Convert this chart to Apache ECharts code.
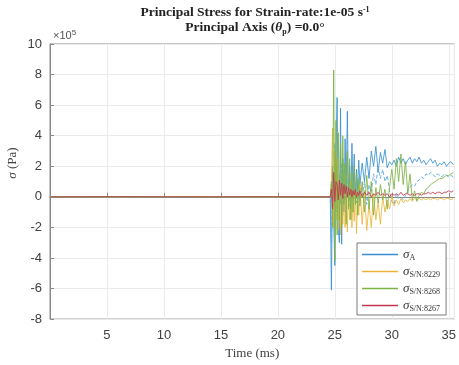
<!DOCTYPE html>
<html>
<head>
<meta charset="utf-8">
<script src="https://cdn.jsdelivr.net/npm/echarts@6/dist/echarts.min.js"></script>
<style>
html, body { margin: 0; padding: 0; background: #fff; }
#main { width: 459px; height: 365px; }
</style>
</head>
<body>
<div id="main"></div>
<script>
// time axis (ms)
var timeMs = [0.1, 6, 12, 18, 24.6,
    24.7, 24.8, 24.9, 25.0, 25.1, 25.2, 25.3, 25.4, 25.5, 25.6,
    25.7, 25.8, 25.9, 26.0, 26.1, 26.2, 26.3, 26.4, 26.5, 26.6,
    26.7, 26.8, 26.9, 27.0, 27.1, 27.2,
    27.4, 27.6, 27.8, 28.0, 28.2, 28.4, 28.6, 28.8, 29.0, 29.2,
    29.4, 29.6, 29.8, 30.0, 30.2, 30.4, 30.6, 30.8, 31.0, 31.2,
    31.4, 31.6, 31.8, 32.0, 32.2, 32.4, 32.6, 32.8, 33.0, 33.2,
    33.4, 33.6, 33.8, 34.0, 34.2, 34.4, 34.6, 34.8, 35.0, 35.2, 35.4];

// stress values, x10^5 Pa
var sigmaA = [0, 0.02, -0.02, 0.01, 0,
    -6.1, 2.0, -1.5, -4.5, 3.0, 6.5, -2.0, -3.0, 5.8, -3.1,
    2.5, -1.0, 3.8, 0.5, 5.6, -0.5, 2.0, -0.8, 3.5, 0.2,
    2.8, -0.3, 1.8, 0.5, 2.4, 0.8,
    2.2, 1.0, 2.6, 1.2, 3.0, 2.0, 3.3, 1.6, 2.9, 2.2,
    3.1, 1.9, 2.3, 2.1, 2.4, 2.0, 2.6, 2.2, 2.5, 2.1,
    2.4, 2.6, 2.2, 2.5, 2.3, 2.6, 2.2, 2.4, 2.1, 2.3,
    2.5, 2.2, 2.4, 2.0, 2.2, 2.1, 2.3, 2.0, 2.2, 2.3, 2.1];
// second blue trace (dashed, not in legend)
var sigmaA2 = [0, 0, 0, 0, 0,
    -3.0, 1.0, -2.0, 3.5, -1.0, 2.0, -2.5, 1.5, -0.5, 2.2,
    -1.2, 1.0, -0.2, 1.8, 0.0, 1.2, -0.6, 0.8, -0.3, 1.0,
    0.2, 0.9, -0.4, 0.6, -0.2, 0.8,
    0.1, 1.0, -0.5, 0.8, 0.3, 1.5, 0.8, 2.0, 1.2, 1.8,
    1.0, 1.4, 0.4, -0.3, -0.5, 0.2, -0.1, 0.0, -0.2, 0.1,
    0.4, 0.6, 0.8, 0.7, 1.0, 1.1, 1.3, 1.2, 1.5, 1.4,
    1.6, 1.5, 1.3, 1.5, 1.4, 1.3, 1.5, 1.4, 1.3, 1.4, 1.3];
var sn8229 = [0, 0, 0.01, 0, 0,
    1.0, 4.5, -2.0, 3.0, -1.5, 2.5, -2.2, 1.2, -2.5, 0.8,
    -1.8, 1.5, -2.0, 0.5, -2.3, 0.6, -1.5, 1.0, -2.0, 0.3,
    -1.6, 0.5, -2.4, 0.2, -1.2, 0.8,
    -1.8, 0.4, -2.2, -0.5, -2.0, 0.2, -1.5, -0.3, -1.8, 0.0,
    -1.0, -0.2, -0.8, 0.1, -0.6, -0.2, -0.5, -0.1, -0.4, -0.2,
    -0.3, -0.1, -0.3, -0.1, -0.2, -0.1, -0.2, -0.1, -0.2, -0.1,
    -0.2, -0.1, -0.1, -0.2, -0.1, -0.1, -0.2, -0.1, -0.1, -0.2, -0.1];
var sn8268 = [0, 0.01, 0, -0.01, 0,
    1.0, -2.0, 8.3, -4.2, 5.0, -2.5, 4.2, -1.5, 3.5, -2.0,
    4.0, -0.5, 2.2, -1.8, 3.0, -0.8, 2.5, -1.5, 1.6, -1.0,
    2.0, -0.5, 1.5, -1.2, 1.2, -0.6,
    1.0, -1.0, 1.4, -0.8, 1.0, -1.2, 0.6, -0.4, 0.8, -0.2,
    0.5, -0.8, 0.6, 1.8, 0.5, 2.5, 1.0, 2.8, 0.8, 2.3,
    0.2, 1.5, -0.2, 0.4, -0.3, 0.1, 0.3, 0.2, 0.5, 0.6,
    0.8, 0.9, 1.0, 1.1, 1.2, 1.2, 1.3, 1.4, 1.4, 1.5, 1.6];
var sn8267 = [0, 0.01, 0, 0.01, 0,
    0.5, -0.8, 1.6, -0.3, 1.0, 0.8, -0.2, 1.1, 0.1, 0.9,
    -0.1, 0.8, 0.2, 0.7, 0.0, 0.6, 0.1, 0.5, 0.0, 0.4,
    0.1, 0.5, 0.0, 0.3, 0.1, 0.4,
    0.0, 0.3, 0.1, 0.3, 0.0, 0.2, 0.1, 0.3, 0.1, 0.2,
    0.1, 0.2, 0.0, 0.2, 0.1, 0.2, 0.1, 0.3, 0.1, 0.2,
    0.2, 0.1, 0.2, 0.1, 0.2, 0.2, 0.1, 0.2, 0.2, 0.3,
    0.2, 0.3, 0.2, 0.3, 0.3, 0.2, 0.3, 0.3, 0.4, 0.3, 0.4];

var legendNames = ['σ_A', 'σ_S/N:8229', 'σ_S/N:8268', 'σ_S/N:8267'];
var lineColors = ['#3a8fd0', '#ebb53a', '#7db343', '#c23550'];

function pairs(ys) {
    return timeMs.map(function (t, i) { return [t, ys[i]]; });
}

function lineSeries(name, ys, color, dashed) {
    return {
        name: name,
        type: 'line',
        data: pairs(ys),
        symbol: 'none',
        lineStyle: { color: color, width: 1, opacity: 0.85, type: dashed ? [4, 2] : 'solid' },
        itemStyle: { color: color },
        z: 3
    };
}

var axisGray = '#8a8a8a';
var tickText = { color: '#404040', fontSize: 13, fontFamily: 'Liberation Sans' };

var myChart = echarts.init(document.getElementById('main'));
var option = {
    animation: false,
    backgroundColor: '#fff',
    grid: { left: 50, right: 2, top: 44, bottom: 39, show: true, borderColor: axisGray, borderWidth: 1 },
    xAxis: {
        type: 'value', min: 0, max: 35.5, interval: 5,
        name: 'Time (ms)', nameLocation: 'middle', nameGap: 26,
        nameTextStyle: { fontFamily: 'Liberation Serif', fontSize: 13, color: '#404040' },
        axisLine: { lineStyle: { color: axisGray } },
        axisTick: { inside: true, length: 4, lineStyle: { color: axisGray } },
        axisLabel: Object.assign({ margin: 10, formatter: function (v) { return v === 0 ? '' : v; } }, tickText),
        splitLine: { lineStyle: { color: '#ebebeb' } }
    },
    yAxis: {
        type: 'value', min: -8, max: 10, interval: 2,
        axisLine: { show: true, lineStyle: { color: axisGray } },
        axisTick: { show: true, inside: true, length: 4, lineStyle: { color: axisGray } },
        axisLabel: Object.assign({ margin: 8 }, tickText),
        splitLine: { lineStyle: { color: '#ebebeb' } }
    },
    legend: {
        data: legendNames,
        orient: 'vertical',
        left: 357, top: 243,
        padding: [4, 6, 2, 5],
        itemGap: 2,
        icon: 'rect',
        itemWidth: 36, itemHeight: 1.5,
        itemTextGap: 4,
        backgroundColor: '#fff',
        borderColor: '#7a7a7a', borderWidth: 1,
        formatter: function (name) {
            return '{s|σ}{sub|' + name.split('_')[1] + '}';
        },
        textStyle: {
            rich: {
                s: { fontFamily: 'Liberation Serif', fontStyle: 'italic', fontSize: 13, color: '#333', lineHeight: 15 },
                sub: { fontFamily: 'Liberation Serif', fontSize: 8, color: '#333', padding: [7, 0, 0, 0], lineHeight: 15 }
            }
        }
    },
    graphic: [
        {
            type: 'text', x: 255, y: 13,
            style: {
                text: '{b|Principal Stress for Strain-rate:1e-05 s}{sup|-1}',
                align: 'center', verticalAlign: 'middle',
                rich: {
                    b: { fontFamily: 'Liberation Serif', fontWeight: 'bold', fontSize: 13.5, fill: '#222' },
                    sup: { fontFamily: 'Liberation Serif', fontWeight: 'bold', fontSize: 8, fill: '#222', padding: [0, 0, 7, 0] }
                }
            }
        },
        {
            type: 'text', x: 255, y: 28,
            style: {
                text: '{b|Principal Axis (}{i|θ}{sub|p}{b|) =0.0°}',
                align: 'center', verticalAlign: 'middle',
                rich: {
                    b: { fontFamily: 'Liberation Serif', fontWeight: 'bold', fontSize: 13.5, fill: '#222' },
                    i: { fontFamily: 'Liberation Serif', fontWeight: 'bold', fontStyle: 'italic', fontSize: 13.5, fill: '#222' },
                    sub: { fontFamily: 'Liberation Serif', fontWeight: 'bold', fontSize: 8, fill: '#222', padding: [8, 0, 0, 0] }
                }
            }
        },
        {
            type: 'text', x: 53, y: 36,
            style: {
                text: '{a|×10}{sup|5}',
                verticalAlign: 'middle',
                rich: {
                    a: { fontFamily: 'Liberation Sans', fontSize: 11, fill: '#555' },
                    sup: { fontFamily: 'Liberation Sans', fontSize: 8, fill: '#555', padding: [0, 0, 7, 0] }
                }
            }
        },
        {
            type: 'text', x: 13, y: 163, rotation: Math.PI / 2,
            style: {
                text: '{s|σ}{a| (Pa)}',
                align: 'center', verticalAlign: 'middle',
                rich: {
                    s: { fontFamily: 'Liberation Serif', fontStyle: 'italic', fontSize: 13, fill: '#404040' },
                    a: { fontFamily: 'Liberation Serif', fontSize: 13, fill: '#404040' }
                }
            }
        }
    ],
    series: [
        lineSeries(legendNames[0], sigmaA, lineColors[0], false),
        lineSeries('σA2', sigmaA2, '#5aa6dc', true),
        lineSeries(legendNames[1], sn8229, lineColors[1], false),
        lineSeries(legendNames[2], sn8268, lineColors[2], false),
        lineSeries(legendNames[3], sn8267, lineColors[3], false)
    ]
};
myChart.setOption(option);
</script>
</body>
</html>
